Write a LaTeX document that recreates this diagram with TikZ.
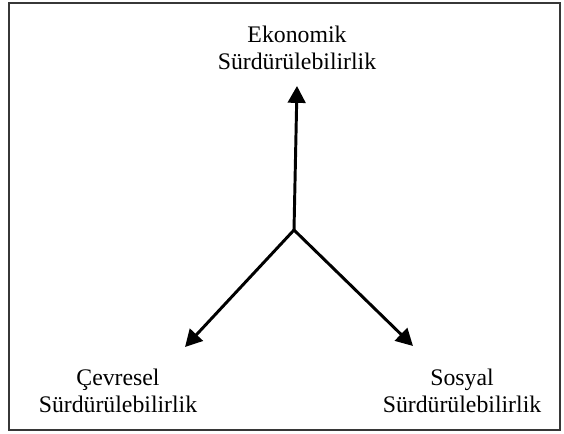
\documentclass[tikz,border=0pt]{standalone}
\usepackage{fontspec}
\setmainfont{Liberation Serif}
\usetikzlibrary{arrows.meta}
\definecolor{FrameGray}{RGB}{55,55,55}

\begin{document}
\begin{tikzpicture}[
  x=0.025cm, y=-0.025cm,
  pillar/.style={
    align=center,
    inner sep=0pt,
    anchor=north,
    font=\fontsize{16.9}{19.1}\selectfont
  },
  axis/.style={-{Triangle[length=12pt,width=12.5pt]}, line width=2.1pt},
  frame/.style={draw=FrameGray, line width=1.4pt}
]
\useasboundingbox (0,0) rectangle (564,433);
\draw[frame] (9,3) rectangle (560,430);

\node[pillar] (eko) at (297,26) {Ekonomik\\Sürdürülebilirlik};
\node[pillar] (cev) at (118,369) {Çevresel\\Sürdürülebilirlik};
\node[pillar] (sos) at (462,369) {Sosyal\\Sürdürülebilirlik};

\coordinate (hub) at (294,230);
\coordinate (ekotip) at (297,86);
\coordinate (cevtip) at (185,347);
\coordinate (sostip) at (413,346);

\draw[axis] (hub) -- (ekotip);
\draw[axis] (hub) -- (cevtip);
\draw[axis] (hub) -- (sostip);
\end{tikzpicture}
\end{document}
